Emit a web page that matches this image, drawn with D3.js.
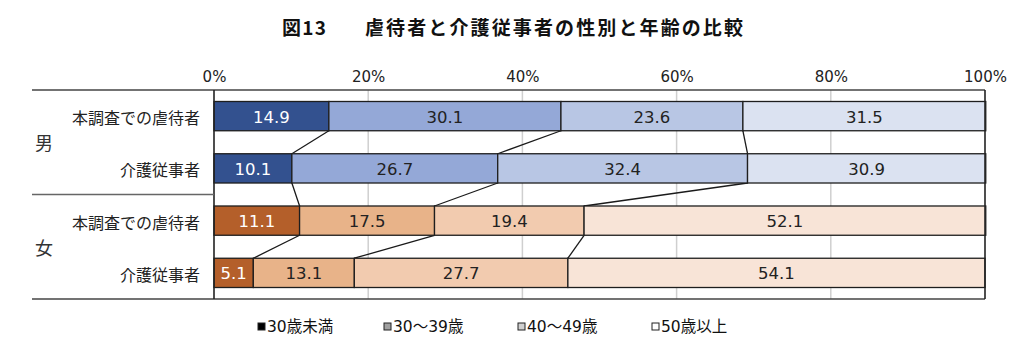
<!DOCTYPE html>
<html><head><meta charset="utf-8">
<script src="https://cdn.jsdelivr.net/npm/d3@7"></script>
<style>
body{margin:0;background:#fff;}
svg{display:block;font-family:"Noto Sans CJK JP","Noto Sans",sans-serif;}
</style></head>
<body><svg id="c" width="1024" height="348"></svg>
<script>
const titleFig = "図13";
const title = "虐待者と介護従事者の性別と年齢の比較";
const groups = ["男", "女"];
const rowLabels = ["本調査での虐待者", "介護従事者", "本調査での虐待者", "介護従事者"];
const rowGroup = [0, 0, 1, 1];
const ageClasses = ["30歳未満", "30～39歳", "40～49歳", "50歳以上"];
const values = [
  [14.9, 30.1, 23.6, 31.5],
  [10.1, 26.7, 32.4, 30.9],
  [11.1, 17.5, 19.4, 52.1],
  [5.1, 13.1, 27.7, 54.1]
];
const ticks = [0, 20, 40, 60, 80, 100];
const maleColors = ["#33518f", "#94a8d7", "#b8c6e4", "#dbe2f1"];
const femaleColors = ["#b45f2a", "#e8b389", "#f2cbaf", "#f8e4d7"];
const legendColors = ["#000000", "#a0a0a0", "#d0d0d0", "#ffffff"];

const numFont = "'DejaVu Sans','Noto Sans CJK JP',sans-serif";
const svg = d3.select("#c");
const x = d3.scaleLinear().domain([0, 100]).range([214, 985]);
const rowIdx = d3.range(rowLabels.length);
const y = d3.scaleBand().domain(rowIdx).range([90, 299]).paddingInner(0.44).paddingOuter(0.22);
const frameTop = 90, frameBottom = 299, leftEdge = 32;

// title
svg.append("text").attr("x", 282).attr("y", 35)
  .attr("font-size", 19).attr("font-weight", "bold")
  .attr("textLength", 44).attr("lengthAdjust", "spacing")
  .attr("fill", "#111").text(titleFig);
svg.append("text").attr("x", 365).attr("y", 35)
  .attr("font-size", 19).attr("font-weight", "bold")
  .attr("textLength", 378).attr("lengthAdjust", "spacing")
  .attr("fill", "#111").text(title);

// gridlines
svg.append("g").selectAll("line").data(ticks.filter(t => t > 0 && t < 100)).join("line")
  .attr("x1", d => x(d)).attr("x2", d => x(d)).attr("y1", frameTop).attr("y2", frameBottom)
  .attr("stroke", "#cfcfcf").attr("stroke-width", 1.5);

// top axis labels
const axis = d3.axisTop(x).tickValues(ticks).tickFormat(d => d + "%").tickSize(0).tickPadding(0);
const ag = svg.append("g").attr("transform", `translate(0,82)`).call(axis);
ag.select(".domain").remove();
ag.selectAll("text").attr("font-size", 15).attr("fill", "#222")
  .attr("font-family", numFont);

// stacked data
const stacked = values.map((row, r) => {
  let c = 0;
  return row.map((v, k) => { const s = c; c += v; return {r, k, v, x0: s, x1: c}; });
});

// connectors
const conn = [];
for (let r = 0; r < values.length - 1; r++) {
  for (let k = 0; k < 3; k++) {
    conn.push({xa: stacked[r][k].x1, ya: y(r) + y.bandwidth(), xb: stacked[r + 1][k].x1, yb: y(r + 1)});
  }
}
svg.append("g").selectAll("line").data(conn).join("line")
  .attr("x1", d => x(d.xa)).attr("y1", d => d.ya).attr("x2", d => x(d.xb)).attr("y2", d => d.yb)
  .attr("stroke", "#1a1a1a").attr("stroke-width", 1.3);

// bars
const segs = stacked.flat();
svg.append("g").selectAll("rect").data(segs).join("rect")
  .attr("x", d => x(d.x0)).attr("y", d => y(d.r))
  .attr("width", d => x(d.x1) - x(d.x0)).attr("height", y.bandwidth())
  .attr("fill", d => (rowGroup[d.r] === 0 ? maleColors : femaleColors)[d.k])
  .attr("stroke", "#1e1e1e").attr("stroke-width", 1.3);

svg.append("g").selectAll("text").data(segs).join("text")
  .attr("x", d => (x(d.x0) + x(d.x1)) / 2).attr("y", d => y(d.r) + y.bandwidth() / 2 + 1)
  .attr("text-anchor", "middle").attr("dominant-baseline", "central")
  .attr("font-family", numFont)
  .attr("font-size", 16.5).attr("fill", d => d.k === 0 ? "#ffffff" : "#222")
  .text(d => d.v.toFixed(1));

// frame
const fr = svg.append("g").attr("stroke", "#444").attr("stroke-width", 1.6).attr("fill", "none");
fr.append("line").attr("x1", leftEdge).attr("x2", x(100)).attr("y1", frameTop).attr("y2", frameTop);
fr.append("line").attr("x1", leftEdge).attr("x2", x(100)).attr("y1", frameBottom).attr("y2", frameBottom);
fr.append("line").attr("x1", x(0)).attr("x2", x(0)).attr("y1", frameTop).attr("y2", frameBottom).attr("stroke", "#222");
fr.append("line").attr("x1", x(100)).attr("x2", x(100)).attr("y1", frameTop).attr("y2", frameBottom).attr("stroke", "#222");
const sepY = (y(1) + y.bandwidth() + y(2)) / 2;
fr.append("line").attr("x1", leftEdge).attr("x2", x(0)).attr("y1", sepY).attr("y2", sepY).attr("stroke", "#666");

// row labels
svg.append("g").selectAll("text").data(rowIdx).join("text")
  .attr("x", 200).attr("y", d => y(d) + y.bandwidth() / 2 + 1)
  .attr("text-anchor", "end").attr("dominant-baseline", "central")
  .attr("font-size", 16).attr("fill", "#222").text(d => rowLabels[d]);

// group labels
svg.append("g").selectAll("text").data(groups).join("text")
  .attr("x", 35).attr("y", (d, i) => i === 0 ? (frameTop + sepY) / 2 : (sepY + frameBottom) / 2)
  .attr("dominant-baseline", "central").attr("font-size", 18).attr("fill", "#333").text(d => d);

// legend
const legX = [258, 384, 518, 652];
const lg = svg.append("g").selectAll("g").data(ageClasses).join("g")
  .attr("transform", (d, i) => `translate(${legX[i]},327)`);
lg.append("rect").attr("x", 0).attr("y", -4).attr("width", 7).attr("height", 7)
  .attr("fill", (d, i) => legendColors[i]).attr("stroke", "#222").attr("stroke-width", 1);
lg.append("text").attr("x", 9).attr("y", 0).attr("dominant-baseline", "central")
  .attr("font-family", numFont)
  .attr("font-size", 15.5).attr("fill", "#111").text(d => d);
</script></body></html>
